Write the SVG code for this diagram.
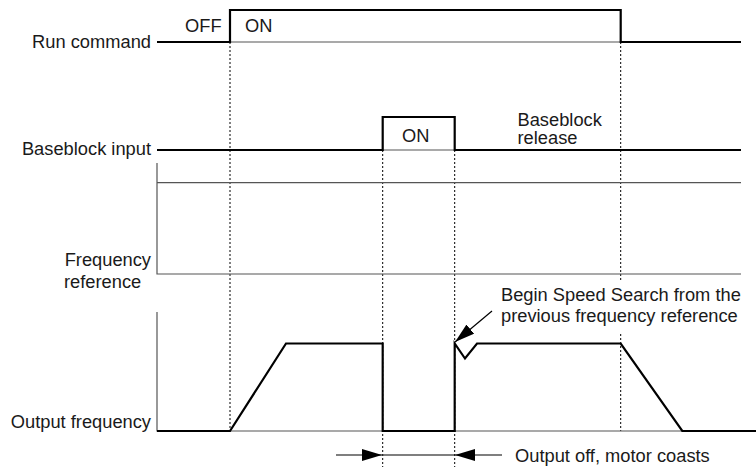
<svg xmlns="http://www.w3.org/2000/svg" width="756" height="467" viewBox="0 0 756 467">
<style>
text{font-family:"Liberation Sans",Arial,sans-serif;font-size:18.3px;fill:#1a1a1a}
.thick{fill:none;stroke:#000;stroke-width:2.2;stroke-linejoin:miter}
.thin{fill:none;stroke:#555;stroke-width:1.2}
.dot{fill:none;stroke:#000;stroke-width:1;stroke-dasharray:2 2}
.arr{fill:none;stroke:#000;stroke-width:1.2}
</style>
<defs>
<marker id="ah" viewBox="0 0 20 12" refX="20" refY="6" markerWidth="20" markerHeight="12" markerUnits="userSpaceOnUse" orient="auto">
<path d="M0,0 L20,6 L0,12 Z" fill="#000"/>
</marker>
</defs>
<g id="connectors">
<path class="dot" d="M230,42 V431"/>
<path class="dot" d="M382.7,150 V467"/>
<path class="dot" d="M454.7,150 V467"/>
<path class="dot" d="M620.7,42 V282 M620.7,334 V431"/>
<path class="arr" d="M336,455 H382" marker-end="url(#ah)"/>
<path class="arr" d="M502,455 H455" marker-end="url(#ah)"/>
<path class="arr" d="M382.7,455 H454.7"/>
<path class="arr" d="M492,311 L455,342" marker-end="url(#ah)"/>
</g>
<g id="run-command">
<text x="151" y="47.5" text-anchor="end">Run command</text>
<text x="185" y="32">OFF</text>
<text x="245" y="32">ON</text>
<path class="thin" d="M230,42 H620.7"/>
<path class="thick" d="M157,42 H230 V10 H620.7 V42 H741"/>
</g>
<g id="baseblock-input">
<text x="151" y="155" text-anchor="end">Baseblock input</text>
<text x="402" y="141.5">ON</text>
<text x="517.5" y="126">Baseblock</text>
<text x="517.5" y="143.5">release</text>
<path class="thin" d="M382.7,150 H454.7"/>
<path class="thick" d="M157,150 H382.7 V117 H454.7 V150 H741"/>
</g>
<g id="frequency-reference">
<text x="151" y="265.5" text-anchor="end">Frequency</text>
<text x="64" y="287.5">reference</text>
<path class="thin" d="M157,163 V274 H741 M157,182.7 H741"/>
</g>
<g id="output-frequency">
<text x="151" y="428" text-anchor="end">Output frequency</text>
<path class="thin" d="M157,312 V431 H756"/>
<path class="thick" d="M157,431 H230 L286,343.5 H382.7 V431 H454.7 V343.5 L465,358.5 L477,343.5 H620.7 L682.3,431 H756"/>
<text x="501" y="300.5">Begin Speed Search from the</text>
<text x="501" y="321.5">previous frequency reference</text>
<text x="515" y="462">Output off, motor coasts</text>
</g>
</svg>
